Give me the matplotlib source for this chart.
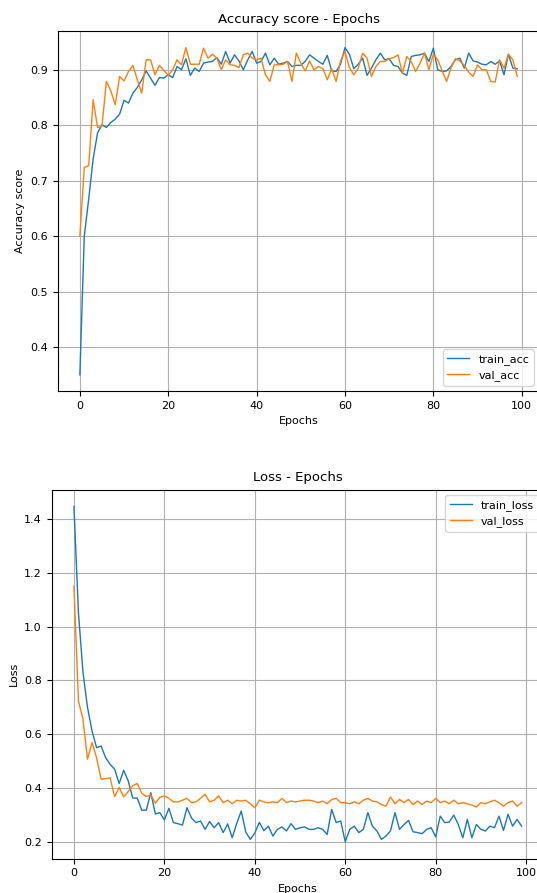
import numpy as np
import matplotlib
matplotlib.use("Agg")
import matplotlib.pyplot as plt

epochs = np.arange(100)

train_acc = [0.35, 0.60, 0.667, 0.739, 0.786, 0.801, 0.796, 0.805, 0.811, 0.820,
             0.845, 0.840, 0.858, 0.868, 0.882, 0.898, 0.885, 0.872, 0.886, 0.885,
             0.891, 0.886, 0.906, 0.900, 0.920, 0.890, 0.903, 0.897, 0.912, 0.914,
             0.915, 0.922, 0.910, 0.933, 0.912, 0.927, 0.916, 0.900, 0.918, 0.933,
             0.912, 0.915, 0.930, 0.909, 0.921, 0.910, 0.912, 0.915, 0.906, 0.908,
             0.908, 0.915, 0.927, 0.921, 0.915, 0.910, 0.926, 0.898, 0.897, 0.910,
             0.940, 0.928, 0.902, 0.910, 0.921, 0.890, 0.903, 0.918, 0.930, 0.918,
             0.920, 0.908, 0.906, 0.894, 0.890, 0.924, 0.926, 0.927, 0.930, 0.915,
             0.939, 0.900, 0.897, 0.898, 0.906, 0.918, 0.921, 0.903, 0.930, 0.916,
             0.914, 0.910, 0.909, 0.915, 0.910, 0.916, 0.891, 0.928, 0.903, 0.902]

val_acc = [0.60, 0.724, 0.727, 0.846, 0.796, 0.798, 0.879, 0.862, 0.837, 0.888,
           0.880, 0.897, 0.908, 0.882, 0.858, 0.918, 0.918, 0.891, 0.908, 0.899,
           0.890, 0.900, 0.918, 0.909, 0.940, 0.910, 0.910, 0.910, 0.939, 0.921,
           0.928, 0.921, 0.900, 0.918, 0.909, 0.908, 0.904, 0.927, 0.930, 0.921,
           0.918, 0.921, 0.891, 0.879, 0.909, 0.909, 0.910, 0.915, 0.879, 0.930,
           0.912, 0.898, 0.916, 0.900, 0.906, 0.902, 0.882, 0.902, 0.879, 0.916,
           0.933, 0.904, 0.891, 0.903, 0.930, 0.921, 0.888, 0.906, 0.915, 0.915,
           0.920, 0.922, 0.927, 0.894, 0.924, 0.915, 0.897, 0.912, 0.930, 0.900,
           0.928, 0.918, 0.898, 0.879, 0.903, 0.920, 0.916, 0.908, 0.896, 0.888,
           0.909, 0.900, 0.900, 0.879, 0.878, 0.918, 0.903, 0.928, 0.918, 0.888]

train_loss = [1.445, 1.05, 0.83, 0.70, 0.613, 0.551, 0.557, 0.514, 0.489, 0.471,
              0.418, 0.467, 0.428, 0.364, 0.364, 0.319, 0.319, 0.384, 0.305, 0.310,
              0.283, 0.326, 0.273, 0.269, 0.264, 0.328, 0.290, 0.273, 0.279, 0.248,
              0.277, 0.254, 0.273, 0.236, 0.268, 0.217, 0.270, 0.316, 0.238, 0.211,
              0.234, 0.274, 0.243, 0.260, 0.223, 0.248, 0.257, 0.242, 0.269, 0.248,
              0.254, 0.257, 0.248, 0.248, 0.254, 0.248, 0.229, 0.322, 0.273, 0.279,
              0.202, 0.248, 0.260, 0.236, 0.248, 0.310, 0.260, 0.242, 0.211, 0.223,
              0.242, 0.310, 0.248, 0.266, 0.281, 0.239, 0.236, 0.232, 0.248, 0.254,
              0.220, 0.297, 0.273, 0.275, 0.301, 0.266, 0.217, 0.285, 0.217, 0.266,
              0.248, 0.242, 0.260, 0.254, 0.297, 0.244, 0.304, 0.260, 0.285, 0.260]

val_loss = [1.15, 0.724, 0.656, 0.508, 0.570, 0.514, 0.434, 0.436, 0.439, 0.369,
            0.403, 0.369, 0.388, 0.410, 0.418, 0.382, 0.370, 0.375, 0.345, 0.367,
            0.372, 0.363, 0.350, 0.350, 0.356, 0.363, 0.347, 0.350, 0.363, 0.378,
            0.350, 0.356, 0.372, 0.347, 0.356, 0.343, 0.356, 0.353, 0.356, 0.343,
            0.328, 0.356, 0.350, 0.347, 0.350, 0.347, 0.363, 0.347, 0.353, 0.350,
            0.353, 0.356, 0.356, 0.353, 0.347, 0.353, 0.343, 0.359, 0.363, 0.347,
            0.347, 0.343, 0.350, 0.343, 0.356, 0.363, 0.353, 0.350, 0.340, 0.334,
            0.368, 0.343, 0.359, 0.347, 0.359, 0.340, 0.353, 0.340, 0.353, 0.347,
            0.363, 0.347, 0.353, 0.343, 0.356, 0.343, 0.347, 0.343, 0.338, 0.331,
            0.347, 0.343, 0.350, 0.356, 0.347, 0.334, 0.347, 0.353, 0.334, 0.347]

plt.rcParams["font.size"] = 8

fig = plt.figure(figsize=(5.37, 8.93), dpi=100)

# accuracy panel (right spine runs off the edge of the figure)
ax1 = fig.add_axes([0.108, 0.562, 0.896, 0.403])
ax1.plot(epochs, train_acc, lw=1.0, label="train_acc")
ax1.plot(epochs, val_acc, lw=1.0, label="val_acc")
ax1.set_title("Accuracy score - Epochs", fontsize=9.5)
ax1.set_xlabel("Epochs")
ax1.set_ylabel("Accuracy score")
ax1.grid(True)
ax1.legend(loc="lower right")

# loss panel
ax2 = fig.add_axes([0.096, 0.0386, 0.917, 0.413])
ax2.plot(epochs, train_loss, lw=1.0, label="train_loss")
ax2.plot(epochs, val_loss, lw=1.0, label="val_loss")
ax2.set_title("Loss - Epochs", fontsize=9.5)
ax2.set_xlabel("Epochs")
ax2.set_ylabel("Loss")
ax2.grid(True)
ax2.legend(loc="upper right")

fig.savefig("out.png", dpi=100)
